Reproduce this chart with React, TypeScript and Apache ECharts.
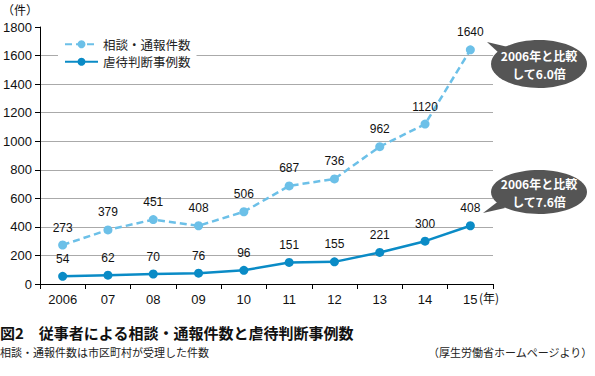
import React, { useEffect, useRef } from "react";
import * as echarts from "echarts";

const categories = ["2006", "07", "08", "09", "10", "11", "12", "13", "14", "15"];
const consultations = [273, 379, 451, 408, 506, 687, 736, 962, 1120, 1640];
const abuseCases = [54, 62, 70, 76, 96, 151, 155, 221, 300, 408];
const seriesNames = ["相談・通報件数", "虐待判断事例数"];
const yTicks = [0, 200, 400, 600, 800, 1000, 1200, 1400, 1600, 1800];

const FONT = "'Liberation Sans', 'Noto Sans CJK JP', sans-serif";
const JP = "'Noto Sans CJK JP', 'Liberation Sans', sans-serif";

export default function App() {
  const ref = useRef<HTMLDivElement>(null);
  useEffect(() => {
    if (!ref.current) return;
    const chart = echarts.init(ref.current, undefined, { renderer: "svg" });
    const gridColors = yTicks.map((v) => (v === 1800 || v === 0 ? "rgba(0,0,0,0)" : "#aaaaaa"));
    chart.setOption({
      animation: false,
      backgroundColor: "#ffffff",
      textStyle: { fontFamily: FONT },
      grid: { left: 40, right: 102, top: 27, bottom: 92 },
      legend: {
        orient: "vertical",
        left: 58,
        top: 35,
        padding: [3, 6, 3, 6],
        backgroundColor: "#ffffff",
        itemWidth: 33,
        itemHeight: 10,
        itemGap: 5,
        textStyle: { fontFamily: JP, fontSize: 12.5, color: "#222" },
        data: seriesNames,
      },
      xAxis: {
        type: "category",
        data: categories,
        boundaryGap: true,
        axisLine: { lineStyle: { color: "#000", width: 1 } },
        axisTick: { show: true, length: 5, lineStyle: { color: "#000" } },
        axisLabel: { color: "#111", fontSize: 13, margin: 9, fontFamily: FONT },
      },
      yAxis: {
        type: "value",
        min: 0,
        max: 1800,
        interval: 200,
        axisLine: { show: true, lineStyle: { color: "#000", width: 1 } },
        axisTick: { show: true, length: 5, lineStyle: { color: "#000" } },
        axisLabel: { color: "#111", fontSize: 13, margin: 8, fontFamily: FONT, formatter: (v: number) => String(v) },
        splitLine: { show: true, lineStyle: { color: gridColors, width: 1 } },
      },
      series: [
        {
          name: seriesNames[0],
          type: "line",
          data: consultations,
          symbol: "circle",
          symbolSize: 9,
          itemStyle: { color: "#6cc0e8" },
          lineStyle: { color: "#6cc0e8", width: 2.5, type: [7, 4] },
          label: { show: true, position: "top", distance: 7, color: "#111", fontSize: 12, fontFamily: FONT },
          z: 3,
        },
        {
          name: seriesNames[1],
          type: "line",
          data: abuseCases,
          symbol: "circle",
          symbolSize: 9,
          itemStyle: { color: "#0a8bc6" },
          lineStyle: { color: "#0a8bc6", width: 2.5 },
          label: { show: true, position: "top", distance: 7, color: "#111", fontSize: 12, fontFamily: FONT },
          z: 4,
        },
      ],
      graphic: [
        { type: "text", left: 2, top: 3, style: { text: "（件）", font: `12px ${JP}`, fill: "#111" } },
        { type: "text", left: 479, top: 291, style: { text: "(年)", font: `12px ${JP}`, fill: "#111" } },
        // callout 1
        { type: "polygon", shape: { points: [[487, 42], [500, 54], [508, 47]] }, style: { fill: "#555555" }, z: 10 },
        { type: "ellipse", shape: { cx: 539, cy: 64, rx: 48, ry: 24 }, style: { fill: "#555555" }, z: 10 },
        {
          type: "text", x: 539, y: 64, z: 11,
          style: { text: "2006年と比較\nして6.0倍", font: `bold 12px ${JP}`, fill: "#fff", align: "center", verticalAlign: "middle", lineHeight: 18 },
        },
        // callout 2
        { type: "polygon", shape: { points: [[483, 213], [500, 200], [505, 208]] }, style: { fill: "#555555" }, z: 10 },
        { type: "ellipse", shape: { cx: 539, cy: 192, rx: 48, ry: 22 }, style: { fill: "#555555" }, z: 10 },
        {
          type: "text", x: 539, y: 192, z: 11,
          style: { text: "2006年と比較\nして7.6倍", font: `bold 12px ${JP}`, fill: "#fff", align: "center", verticalAlign: "middle", lineHeight: 18 },
        },
        // titles
        { type: "text", left: 0, top: 325, style: { text: "図2　従事者による相談・通報件数と虐待判断事例数", font: `bold 15px ${JP}`, fill: "#111" } },
        { type: "text", left: 0, top: 346, style: { text: "相談・通報件数は市区町村が受理した件数", font: `11px ${JP}`, fill: "#222" } },
        { type: "text", right: 2, top: 346, style: { text: "（厚生労働省ホームページより）", font: `11px ${JP}`, fill: "#222" } },
      ],
    });
    return () => chart.dispose();
  }, []);
  return <div ref={ref} style={{ width: 595, height: 376, position: "absolute", left: 0, top: 0 }} />;
}
